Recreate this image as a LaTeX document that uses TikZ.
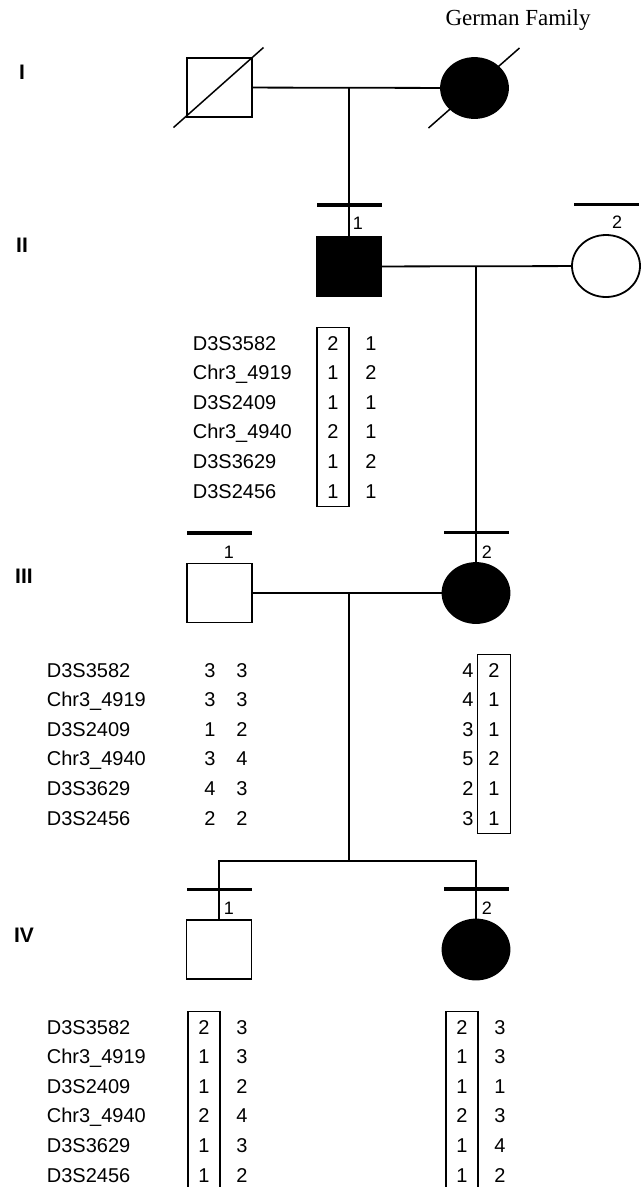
\documentclass[tikz,border=0pt]{standalone}
\usepackage{fontspec}
\setmainfont{Liberation Sans}
\newfontfamily\titlefont{Liberation Serif}
\usetikzlibrary{shapes.geometric,positioning}

\begin{document}
\begin{tikzpicture}[
  x=1pt, y=-1pt,
  line width=1.8pt,
  male/.style={draw, rectangle, minimum width=65pt, minimum height=59pt, inner sep=0pt},
  female/.style={draw, ellipse, minimum width=67pt, minimum height=60pt, inner sep=0pt},
  aff/.style={fill=black},
  gbar/.style={fill=black, rectangle, minimum width=65pt, minimum height=3.6pt, inner sep=0pt},
  dead/.style={line width=1.5pt},
  num/.style={font=\fontsize{18}{18}\selectfont, inner sep=0pt},
  gen/.style={font=\fontsize{21}{21}\selectfont\bfseries, inner sep=0pt},
  mk/.style={align=left, anchor=base west, inner sep=0pt, font=\fontsize{20}{29.6}\selectfont},
  al/.style={align=center, anchor=base, inner sep=0pt, font=\fontsize{20}{29.6}\selectfont},
  hap/.style={al, draw, minimum width=32pt, inner ysep=8.5pt}
]
\useasboundingbox (0,0) rectangle (644,1187);

\node[font=\titlefont\fontsize{23}{23}\selectfont] (title) at (518,20) {German Family};

% generations
\node[gen] (g1) at (22,72) {I};
\node[gen] (g2) at (22,245) {II};
\node[gen] (g3) at (24,576) {III};
\node[gen] (g4) at (24,935) {IV};

% individuals
\node[male] (i1) at (219.5,87.5) {};
\node[female, aff] (i2) at (474.5,88) {};
\node[male, aff, minimum width=64pt] (ii1) at (349,266.5) {};
\node[female, minimum width=68pt, minimum height=62pt] (ii2) at (606,266) {};
\node[male] (iii1) at (219.5,593) {};
\node[female, aff] (iii2) at (476,593) {};
\node[male] (iv1) at (219,949.5) {};
\node[female, aff] (iv2) at (476,949.5) {};

\draw[dead] ([shift={(-46,40)}]i1.center) -- ([shift={(44,-40)}]i1.center);
\draw[dead] ([shift={(-46,40)}]i2.center) -- ([shift={(45,-40)}]i2.center);

% genotyped bars and numbers
\node[gbar, above=28.5pt of ii1] (ii1b) {};
\node[gbar, above=27pt of ii2] (ii2b) {};
\node[gbar, above=27pt of iii1] (iii1b) {};
\node[gbar, above=27pt of iii2] (iii2b) {};
\node[gbar, above=27pt of iv1] (iv1b) {};
\node[gbar, above=27pt of iv2] (iv2b) {};
\node[num] (ii1n) at (358,223) {1};
\node[num] (ii2n) at (617,222) {2};
\node[num] (iii1n) at (229,552) {1};
\node[num] (iii2n) at (487,552) {2};
\node[num] (iv1n) at (229,908) {1};
\node[num] (iv2n) at (487,908) {2};

% lines of descent
\coordinate (m1) at (i1.east -| ii1.north);
\coordinate (m2) at (ii1.east -| iii2.north);
\coordinate (m3) at (349,593);
\coordinate (s4) at (349,861);
\draw (i1) -- (i2);
\draw (m1) -- (ii1.north);
\draw (ii1) -- (ii2);
\draw (m2) -- (iii2.north);
\draw (iii1) -- (iii2);
\draw (m3) -- (s4);
\draw (s4) -| (iv1.north);
\draw (s4) -| (iv2.north);

% haplotypes (base = last row)
\node[mk] (ii1m) at (192,498) {D3S3582\\Chr3\_4919\\D3S2409\\Chr3\_4940\\D3S3629\\D3S2456};
\node[hap] (ii1a) at (333,498) {2\\1\\1\\2\\1\\1};
\node[al] (ii1c) at (371,498) {1\\2\\1\\1\\2\\1};

\node[mk] (iiim) at (46,825) {D3S3582\\Chr3\_4919\\D3S2409\\Chr3\_4940\\D3S3629\\D3S2456};
\node[al] (iii1a) at (210,825) {3\\3\\1\\3\\4\\2};
\node[al] (iii1c) at (242,825) {3\\3\\2\\4\\3\\2};
\node[al] (iii2a) at (468,825) {4\\4\\3\\5\\2\\3};
\node[hap, minimum width=33pt] (iii2c) at (494,825) {2\\1\\1\\2\\1\\1};

\node[mk] (ivm) at (46,1182) {D3S3582\\Chr3\_4919\\D3S2409\\Chr3\_4940\\D3S3629\\D3S2456};
\node[hap] (iv1a) at (204,1182) {2\\1\\1\\2\\1\\1};
\node[al] (iv1c) at (242,1182) {3\\3\\2\\4\\3\\2};
\node[hap] (iv2a) at (462,1182) {2\\1\\1\\2\\1\\1};
\node[al] (iv2c) at (500,1182) {3\\3\\1\\3\\4\\2};
\end{tikzpicture}
\end{document}
